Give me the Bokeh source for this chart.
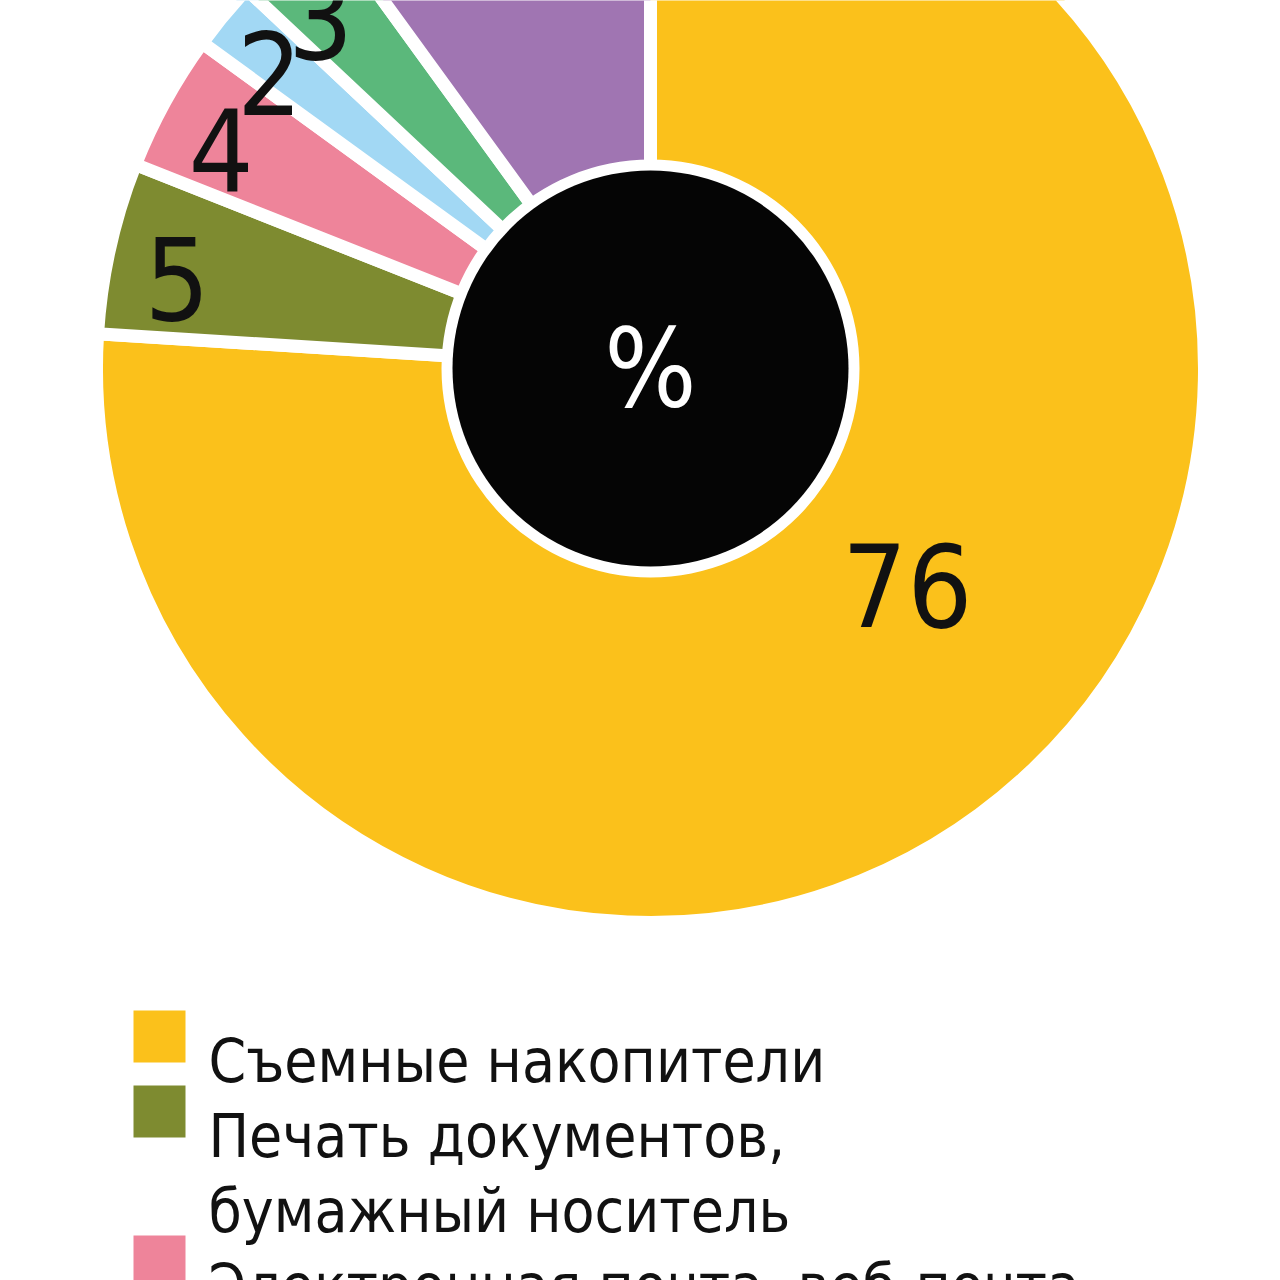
import math
from bokeh.plotting import figure
from bokeh.models import ColumnDataSource, Range1d
from bokeh.core.properties import value
from bokeh.embed import file_html
from bokeh.resources import INLINE

# ---- data ----
categories = ["Съемные накопители", "Печать документов,\nбумажный носитель",
              "Электронная почта, веб-почта", "slice 4", "slice 5", "slice 6"]
values = [76, 5, 4, 2, 3, 10]
colors = ["#FBC11B", "#7E8B30", "#EE849A", "#A2D8F4", "#5BB87B", "#A075B2"]
legend_labels = ["Съемные накопители", "Печать документов,\nбумажный носитель",
                 "Электронная почта, веб-почта"]
center_label = "%"

W, H = 1280, 1280
CX, CY = 650, H - 368
R_OUT = 554
R_HOLE = 209
R_BLACK = 198
FONT = "DejaVu Sans Condensed, sans-serif"

p = figure(width=W, height=H, output_backend="svg", toolbar_location=None,
           x_range=Range1d(0, W), y_range=Range1d(0, H),
           x_axis_location=None, y_axis_location=None, min_border=0,
           outline_line_color=None, background_fill_color="white")
p.xgrid.visible = False
p.ygrid.visible = False

total = float(sum(values))
starts, ends, lx, ly, labels = [], [], [], [], []
cum = 0.0
for i, v in enumerate(values):
    a0 = math.pi / 2 - 2 * math.pi * cum / total
    cum += v
    a1 = math.pi / 2 - 2 * math.pi * cum / total
    starts.append(a0)
    ends.append(a1)
    mid = (a0 + a1) / 2
    if v == max(values):
        r, off = 336, math.radians(6.6)
    else:
        r, off = 482, math.radians(1.8)
    lx.append(CX + r * math.cos(mid + off))
    ly.append(CY + r * math.sin(mid + off))
    labels.append(str(v))

src = ColumnDataSource(dict(start=starts, end=ends, color=colors, lx=lx, ly=ly,
                            label=labels, cat=categories))

p.wedge(x=CX, y=CY, radius=R_OUT, start_angle="start", end_angle="end",
        direction="clock", fill_color="color", line_color="white",
        line_width=13, source=src)
p.circle(x=[CX], y=[CY], radius=R_HOLE, fill_color="white", line_color=None)
p.circle(x=[CX], y=[CY], radius=R_BLACK, fill_color="#050505", line_color=None)

p.text(x="lx", y="ly", text="label", source=src, text_font=value(FONT),
       text_font_size="114px", text_align="center", text_baseline="middle",
       text_color="#111111")
p.text(x=[CX], y=[CY], text=[center_label], text_font=value(FONT),
       text_font_size="108px", text_align="center", text_baseline="middle",
       text_color="white")

# ---- legend (manual) ----
sq_x, sq_y, sq_c = [], [], []
tx, ty, tt = [], [], []
line = 0
for i, lab in enumerate(legend_labels):
    top = 1010 + 75 * line
    sq_x.append(159)
    sq_y.append(H - (top + 26))
    sq_c.append(colors[i])
    for part in lab.split("\n"):
        tx.append(208)
        ty.append(H - (1060 + 75 * line))
        tt.append(part)
        line += 1

p.rect(x=sq_x, y=sq_y, width=52, height=52, fill_color=sq_c, line_color=None)
p.text(x=tx, y=ty, text=tt, text_font=value(FONT),
       text_font_size="60px", text_align="left", text_baseline="alphabetic",
       text_color="#111111")

open("out.html", "w").write(file_html(p, INLINE))
